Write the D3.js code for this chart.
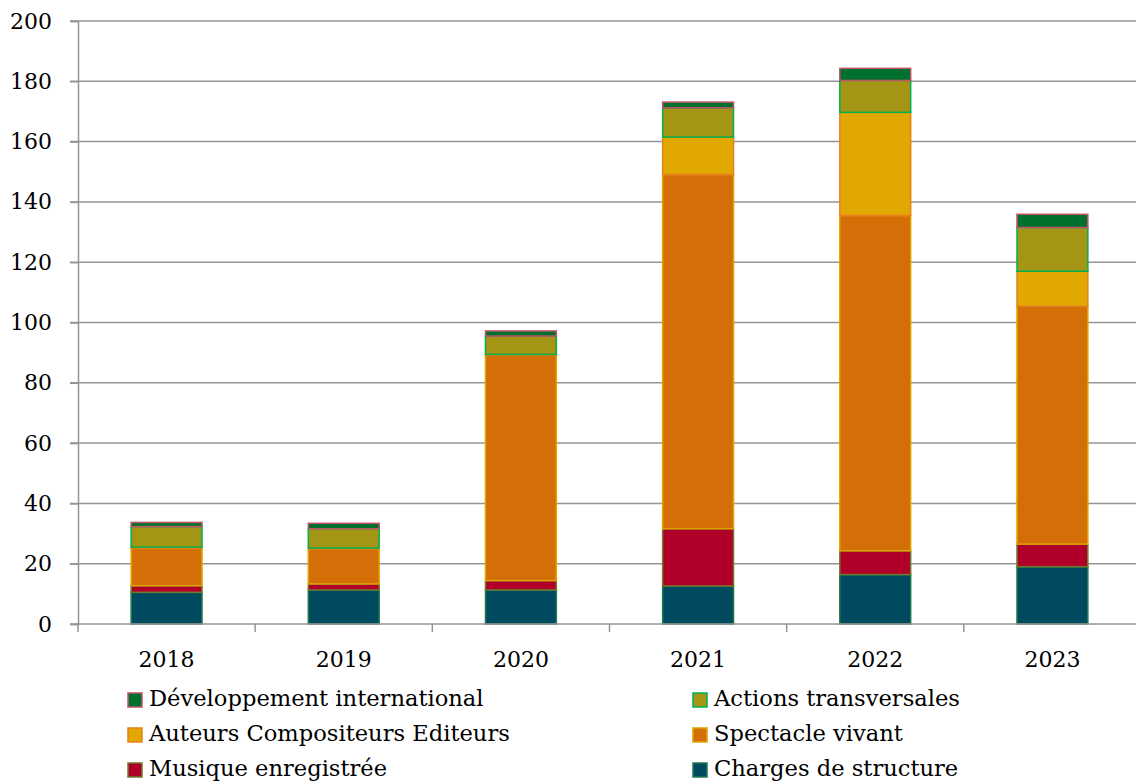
<!DOCTYPE html>
<html>
<head>
<meta charset="utf-8">
<script src="https://cdn.jsdelivr.net/npm/d3@7"></script>
<style>
  html, body { margin: 0; padding: 0; background: #fff; }
  svg { display: block; }
  text { font-family: "DejaVu Serif", "Liberation Serif", serif; fill: #000; }
</style>
</head>
<body>
<svg id="chart" width="1136" height="782"></svg>
<script>
// Years on the x axis
const years = ["2018", "2019", "2020", "2021", "2022", "2023"];

// Series, listed bottom to top of each stack
const chargesStructure      = [10.5, 11.3, 11.3, 12.6, 16.4, 19.0];
const musiqueEnregistree    = [2.2, 2.0, 3.1, 19.0, 7.9, 7.5];
const spectacleVivant       = [12.6, 11.7, 74.9, 117.5, 111.2, 78.9];
const auteursCompositeurs   = [0.2, 0.2, 0.1, 12.4, 34.2, 11.6];
const actionsTransversales  = [6.8, 6.4, 6.1, 9.7, 10.6, 14.5];
const devInternational      = [1.4, 1.8, 1.7, 1.9, 4.0, 4.4];

// Y axis ticks
const yTicks = [0, 20, 40, 60, 80, 100, 120, 140, 160, 180, 200];

const series = [
  { key: "Charges de structure",          values: chargesStructure,     fill: "#004a60", stroke: "#1e7a4c" },
  { key: "Musique enregistrée",           values: musiqueEnregistree,   fill: "#b0002a", stroke: "#6f7a2c" },
  { key: "Spectacle vivant",              values: spectacleVivant,      fill: "#d46f08", stroke: "#e0a400" },
  { key: "Auteurs Compositeurs Editeurs", values: auteursCompositeurs,  fill: "#e0a800", stroke: "#e8801e" },
  { key: "Actions transversales",         values: actionsTransversales, fill: "#a59514", stroke: "#00b050" },
  { key: "Développement international",   values: devInternational,     fill: "#00702e", stroke: "#c05468" }
];

const rows = years.map((yr, i) => {
  const r = { year: yr };
  series.forEach(s => { r[s.key] = s.values[i]; });
  return r;
});

const svg = d3.select("#chart");
const plotLeft = 78, plotRight = 1141, plotTop = 21, plotBottom = 624;

const x = d3.scaleBand().domain(years).range([plotLeft, plotRight]).paddingInner(0.6).paddingOuter(0.3);
const xBand = d3.scaleBand().domain(years).range([plotLeft, plotRight]);
const y = d3.scaleLinear().domain([0, 200]).range([plotBottom, plotTop]);

const axisColor = "#959595";

// Horizontal gridlines
svg.append("g").selectAll("line").data(yTicks.filter(t => t > 0)).join("line")
  .attr("x1", plotLeft - 8).attr("x2", 1136)
  .attr("y1", d => y(d)).attr("y2", d => y(d))
  .attr("stroke", axisColor).attr("stroke-width", 1.5);

// Y axis
const yAxis = d3.axisLeft(y).tickValues(yTicks).tickSize(8).tickPadding(18);
const gy = svg.append("g").attr("transform", `translate(${plotLeft},0)`).call(yAxis);
gy.select(".domain").attr("stroke", axisColor).attr("stroke-width", 1.5);
gy.selectAll(".tick line").attr("stroke", axisColor).attr("stroke-width", 1.5);
gy.selectAll(".tick text").attr("font-size", 22).attr("font-family", "DejaVu Serif").attr("fill", "#000");

// Stacked bars
const stack = d3.stack().keys(series.map(s => s.key));
const stacked = stack(rows);

svg.append("g").selectAll("g").data(stacked).join("g")
  .attr("fill", (d, i) => series[i].fill)
  .attr("stroke", (d, i) => series[i].stroke)
  .attr("stroke-width", 1.5)
  .selectAll("rect").data(d => d).join("rect")
  .attr("x", d => x(d.data.year))
  .attr("width", x.bandwidth())
  .attr("y", d => y(d[1]))
  .attr("height", d => Math.max(0, y(d[0]) - y(d[1])));

// X axis line with ticks between categories
const gx = svg.append("g");
gx.append("line").attr("x1", plotLeft - 8).attr("x2", 1136)
  .attr("y1", plotBottom).attr("y2", plotBottom)
  .attr("stroke", axisColor).attr("stroke-width", 1.5);
gx.selectAll("line.sep").data(years).join("line").attr("class", "sep")
  .attr("x1", d => xBand(d)).attr("x2", d => xBand(d))
  .attr("y1", plotBottom).attr("y2", plotBottom + 8)
  .attr("stroke", axisColor).attr("stroke-width", 1.5);
gx.selectAll("text").data(years).join("text")
  .attr("x", d => xBand(d) + xBand.bandwidth() / 2)
  .attr("y", 661)
  .attr("text-anchor", "middle")
  .attr("dominant-baseline", "middle")
  .attr("font-size", 22)
  .text(d => d);

// Legend: two columns, three rows
const legendOrder = [
  series[5], series[4],
  series[3], series[2],
  series[1], series[0]
];
const legend = svg.append("g");
const items = legend.selectAll("g").data(legendOrder).join("g")
  .attr("transform", (d, i) => `translate(${i % 2 === 0 ? 128 : 693},${700 + Math.floor(i / 2) * 35})`);
items.append("rect")
  .attr("x", 0).attr("y", -7).attr("width", 14).attr("height", 14)
  .attr("fill", d => d.fill).attr("stroke", d => d.stroke).attr("stroke-width", 1.5);
items.append("text")
  .attr("x", 21).attr("y", 0)
  .attr("dominant-baseline", "middle")
  .attr("font-size", 22.6)
  .text(d => d.key);
</script>
</body>
</html>
